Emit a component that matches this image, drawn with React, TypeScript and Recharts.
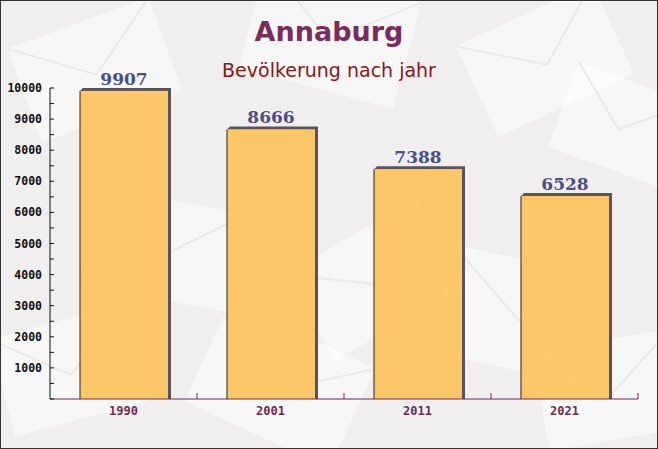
import React from "react";
import { BarChart, Bar, XAxis, YAxis, LabelList } from "recharts";

const years = ["1990", "2001", "2011", "2021"];
const population = [9907, 8666, 7388, 6528];
const yTicks = [0, 500, 1000, 1500, 2000, 2500, 3000, 3500, 4000, 4500, 5000, 5500, 6000, 6500, 7000, 7500, 8000, 8500, 9000, 9500, 10000];

const data = years.map((y, i) => ({ year: y, value: population[i] }));

// faint envelope shapes in the background
const envelopes = [
  { x: 20, y: 20, w: 150, h: 100, r: -20 },
  { x: 250, y: -20, w: 160, h: 110, r: 15 },
  { x: 470, y: 10, w: 150, h: 100, r: -25 },
  { x: 560, y: 80, w: 120, h: 90, r: 20 },
  { x: 90, y: 200, w: 150, h: 100, r: 10 },
  { x: 300, y: 230, w: 150, h: 100, r: -30 },
  { x: 440, y: 260, w: 160, h: 110, r: 12 },
  { x: 0, y: 320, w: 140, h: 100, r: -15 },
  { x: 200, y: 330, w: 160, h: 110, r: 25 },
  { x: 540, y: 340, w: 140, h: 100, r: -10 },
];

const BarShape = (props: any) => {
  const { x, y, width, height } = props;
  if (!height || height <= 0) return null;
  const d = 3;
  return (
    <g>
      <polygon
        points={`${x},${y} ${x + d},${y - d} ${x + width + d},${y - d} ${x + width + d},${y + height} ${x + width},${y + height} ${x + width},${y}`}
        fill="#5b525b"
      />
      <rect x={x} y={y} width={width} height={height} fill="#fbbf52" fillOpacity={0.86} />
      <line x1={x} y1={y} x2={x} y2={y + height} stroke="#222" strokeWidth={1} />
    </g>
  );
};

const YTick = (props: any) => {
  const { x, y, payload } = props;
  const v = payload.value;
  const major = v % 1000 === 0;
  return (
    <g>
      <line x1={x} y1={y} x2={x + 4} y2={y} stroke="#111" strokeWidth={1} />
      {major && v !== 0 ? (
        <text x={x - 8} y={y + 4} textAnchor="end" fontFamily="DejaVu Sans Mono" fontWeight="bold" fontSize={11.5} fill="#111">
          {v}
        </text>
      ) : null}
    </g>
  );
};

const XTick = (props: any) => {
  const { x, y, payload } = props;
  const half = 73.5;
  return (
    <g>
      <line x1={x + half} y1={y - 6} x2={x + half} y2={y} stroke="#6b2d50" strokeWidth={1} />
      <text x={x} y={y + 16} textAnchor="middle" fontFamily="DejaVu Sans Mono" fontWeight="bold" fontSize={12} fill="#6b2d50">
        {payload.value}
      </text>
    </g>
  );
};

export default function App() {
  return (
    <div style={{ position: "relative", width: 658, height: 449, overflow: "hidden", background: "#f1eef0", boxSizing: "border-box", border: "1px solid #333" }}>
      <style>{`body{margin:0}`}</style>
      <svg width={658} height={449} style={{ position: "absolute", left: -1, top: -1 }}>
        {envelopes.map((e, i) => (
          <g key={i} transform={`rotate(${e.r} ${e.x + e.w / 2} ${e.y + e.h / 2})`}>
            <rect x={e.x} y={e.y} width={e.w} height={e.h} fill="#ffffff" fillOpacity={0.5} />
            <polyline points={`${e.x},${e.y} ${e.x + e.w / 2},${e.y + e.h * 0.55} ${e.x + e.w},${e.y}`} fill="none" stroke="#ebe7ea" strokeWidth={2} />
          </g>
        ))}
        <text x={329} y={41} textAnchor="middle" fontFamily="DejaVu Sans" fontWeight="bold" fontSize={27} fill="#7a2d5c">
          Annaburg
        </text>
        <text x={329} y={77} textAnchor="middle" fontFamily="DejaVu Sans" fontSize={19} fill="#8b1616">
          Bevölkerung nach jahr
        </text>
      </svg>
      <div style={{ position: "absolute", left: -1, top: -1 }}>
        <BarChart width={658} height={449} data={data} margin={{ top: 88, right: 20, bottom: 0, left: 0 }}>
          <XAxis dataKey="year" axisLine={{ stroke: "#6b2d50" }} tickLine={false} tickSize={0} tickMargin={0} tick={<XTick />} interval={0} height={50} />
          <YAxis domain={[0, 10000]} ticks={yTicks} interval={0} axisLine={{ stroke: "#111" }} tickLine={false} tickSize={0} tickMargin={0} tick={<YTick />} width={50} allowDataOverflow />
          <Bar dataKey="value" barSize={88} shape={<BarShape />} isAnimationActive={false}>
            <LabelList dataKey="value" position="top" offset={6} fontFamily="DejaVu Serif" fontWeight="bold" fontSize={17} fill="#4b4f86" />
          </Bar>
        </BarChart>
      </div>
    </div>
  );
}
